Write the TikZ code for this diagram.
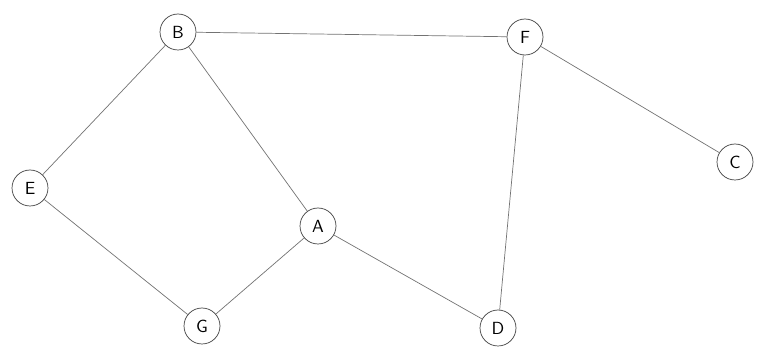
\documentclass[tikz,border=0pt]{standalone}
\begin{document}
\begin{tikzpicture}[x=0.02cm,y=-0.02cm,
  vtx/.style={draw=black!75,circle,thin,minimum size=0.72cm,inner sep=0pt,font=\sffamily},
  edge/.style={draw=black!55,thin}]
\useasboundingbox(0,0)rectangle(758,354);
\node[vtx](B)at(178,32){B};
\node[vtx](F)at(525,37){F};
\node[vtx](C)at(735,162){C};
\node[vtx](E)at(30,188){E};
\node[vtx](A)at(318,226){A};
\node[vtx](G)at(202,326){G};
\node[vtx](D)at(498,328){D};
\draw[edge](B)--(F);
\draw[edge](B)--(E);
\draw[edge](B)--(A);
\draw[edge](F)--(C);
\draw[edge](F)--(D);
\draw[edge](E)--(G);
\draw[edge](A)--(G);
\draw[edge](A)--(D);
\end{tikzpicture}
\end{document}
